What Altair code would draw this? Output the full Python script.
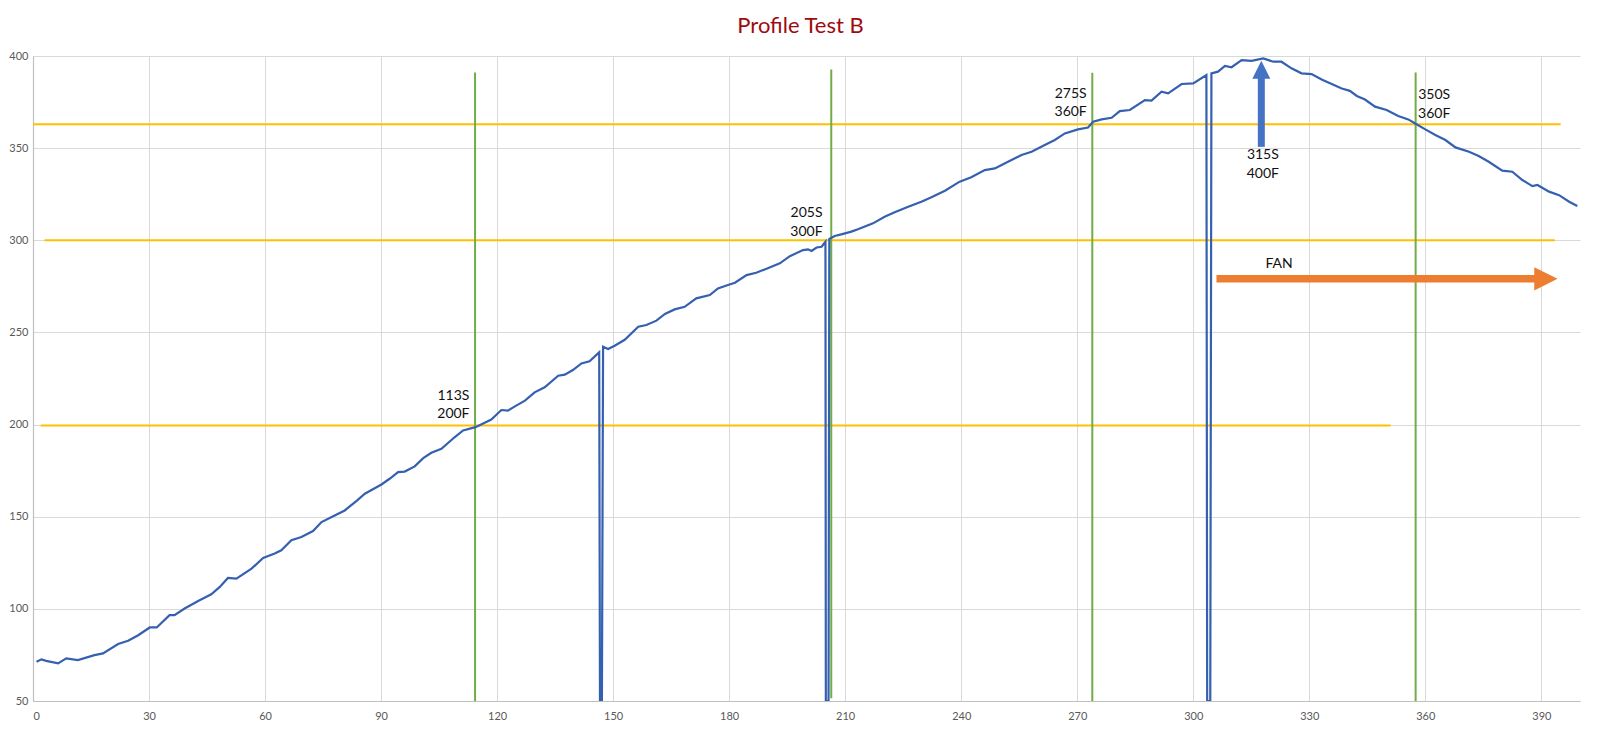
import altair as alt
import pandas as pd

# ---- main temperature trace (seconds, °F) ----
sec = [0.9, 2.2, 3.4, 6.5, 8.6, 11.6, 15.9, 18.1, 22.0, 24.6, 27.2, 30.2, 32.0, 35.3, 36.6,
       39.2, 42.7, 46.1, 48.3, 50.4, 52.6, 56.5, 59.5, 62.5, 64.2, 66.8, 69.4, 72.4, 74.6,
       78.0, 80.6, 83.6, 85.8, 90.1, 92.2, 94.4, 96.1, 98.7, 100.9, 103.0, 105.6, 109.0,
       111.2, 114.4, 118.5, 121.1, 122.8, 124.6, 127.2, 129.7, 132.3, 135.8, 137.5, 139.6,
       141.8, 143.9, 146.4, 146.6, 147.1, 147.4, 148.7, 150.4, 153.0, 156.5, 158.6, 161.2,
       163.4, 165.9, 168.5, 171.5, 175.0, 177.1, 179.7, 181.5, 184.5, 187.0, 189.2, 193.1,
       195.7, 199.1, 200.4, 201.3, 202.6, 203.9, 204.9, 205.0, 205.7, 205.9, 207.3, 209.0,
       211.6, 213.3, 217.2, 220.2, 222.8, 226.3, 229.7, 232.3, 235.8, 239.6, 242.6, 246.1,
       248.7, 252.1, 255.6, 258.2, 261.6, 264.2, 266.8, 270.2, 272.8, 274.1, 276.3, 278.9,
       281.0, 283.6, 287.5, 289.2, 291.8, 293.5, 297.0, 300.0, 303.4, 303.6, 304.4, 304.7,
       306.4, 308.2, 309.9, 312.5, 315.1, 318.1, 320.7, 322.8, 325.4, 328.0, 330.6, 333.2,
       335.8, 338.4, 340.5, 342.3, 344.4, 347.0, 350.0, 353.0, 355.6, 357.4, 360.0, 362.6,
       365.2, 367.8, 371.3, 373.8, 376.4, 379.9, 382.5, 385.1, 387.7, 389.0, 392.0, 394.6,
       397.2, 399.3]
temp = [71.3, 72.6, 71.8, 70.4, 73.1, 72.2, 74.9, 75.8, 80.9, 82.7, 85.7, 89.9, 89.9, 96.6, 96.6,
        100.2, 104.3, 107.9, 111.9, 116.8, 116.4, 121.8, 127.6, 130.0, 131.8, 137.2, 139.0, 142.2, 147.1,
        150.7, 153.4, 158.5, 162.5, 167.5, 170.6, 174.2, 174.5, 177.3, 181.8, 184.7, 186.8, 193.1,
        196.8, 198.6, 202.7, 207.9, 207.6, 209.9, 213.0, 217.5, 220.2, 226.5, 227.1, 229.6,
        233.2, 234.3, 239.2, 50.0, 50.0, 242.2, 241.0, 242.8, 246.0, 253.1, 254.0, 256.4,
        260.0, 262.5, 263.9, 268.5, 270.3, 273.9, 275.7, 277.0, 281.1, 282.4, 284.2, 287.5,
        291.4, 294.7, 295.1, 294.2, 296.1, 296.5, 299.2, 50.0, 50.0, 300.7, 302.3, 303.2,
        304.7, 306.0, 309.2, 312.8, 315.2, 318.2, 320.9, 323.3, 326.9, 331.8, 334.2, 338.1,
        339.0, 342.6, 346.3, 348.0, 351.7, 354.4, 358.0, 360.2, 361.2, 364.3, 365.6, 366.5,
        370.1, 370.7, 376.1, 375.8, 380.6, 379.7, 384.8, 385.1, 389.7, 50.0, 50.0, 390.6,
        391.5, 394.6, 393.9, 397.8, 397.4, 398.7, 396.9, 396.9, 393.3, 390.6, 390.2, 387.3,
        384.8, 382.4, 381.1, 378.3, 376.4, 372.5, 370.7, 367.4, 365.6, 363.4, 360.2, 357.1,
        354.4, 350.4, 348.0, 345.7, 342.6, 337.8, 337.2, 332.7, 329.4, 330.0, 326.4, 324.5,
        320.9, 318.6]

# ---- horizontal reference lines (orange) ----
h_y = [363, 300, 199.5]
h_x0 = [0, 3, 2]
h_x1 = [395, 393.5, 351]

# ---- vertical markers (green) ----
v_x = [114.3, 206.4, 273.9, 357.5]
v_y0 = [50, 51.5, 50, 50]
v_y1 = [391, 392.7, 390.9, 391.1]

# ---- annotation labels ----
lab_text = ["113S", "200F", "205S", "300F", "275S", "360F", "350S", "360F", "315S", "400F", "FAN"]
lab_x = [108.7, 108.7, 200.0, 200.0, 268.3, 268.3, 362.3, 362.3, 318.0, 318.0, 322.2]
lab_y = [215.7, 205.7, 314.6, 304.6, 379.5, 369.6, 378.6, 368.7, 346.1, 336.1, 287.3]

# ---- arrows ----
up_x = [317.6]
up_y0 = [350.7]
up_y1 = [388.5]
up_tip = [397.4]
fan_x0 = [306.0]
fan_x1 = [388.6]
fan_y = [279.1]
fan_tip = [394.2]

line_df = pd.DataFrame({"x": sec, "y": temp, "i": range(len(sec))})
h_df = pd.DataFrame({"x": h_x0, "x2": h_x1, "y": h_y})
v_df = pd.DataFrame({"x": v_x, "y": v_y0, "y2": v_y1})
lab_df = pd.DataFrame({"x": lab_x, "y": lab_y, "t": lab_text})
up_df = pd.DataFrame({"x": up_x, "y": up_y0, "y2": up_y1, "tip": up_tip})
fan_df = pd.DataFrame({"x": fan_x0, "x2": fan_x1, "y": fan_y, "tip": fan_tip})

xs = alt.Scale(domain=[0, 400], nice=False, zero=False)
ys = alt.Scale(domain=[50, 400], nice=False, zero=False)
xax = alt.Axis(values=list(range(0, 391, 30)), title=None)
yax = alt.Axis(values=list(range(50, 401, 50)), title=None)

def X(f="x"):
    return alt.X(f"{f}:Q", scale=xs, axis=xax)

def Y(f="y"):
    return alt.Y(f"{f}:Q", scale=ys, axis=yax)

hlines = alt.Chart(h_df).mark_rule(color="#ffc000", strokeWidth=2).encode(
    x=X(), x2="x2:Q", y=Y())
vlines = alt.Chart(v_df).mark_rule(color="#70ad47", strokeWidth=2).encode(
    x=X(), y=Y(), y2="y2:Q")
trace = alt.Chart(line_df).mark_line(color="#3560b0", strokeWidth=2.2, clip=True).encode(
    x=X(), y=Y(), order="i:Q")
up_shaft = alt.Chart(up_df).mark_rule(color="#4472c4", strokeWidth=7).encode(
    x=X(), y=Y(), y2="y2:Q")
up_head = alt.Chart(up_df).mark_point(
    shape="M0,0L-1,2L1,2Z", filled=True, opacity=1, color="#4472c4", size=324, strokeWidth=0
).encode(x=X(), y=Y("tip"))
fan_shaft = alt.Chart(fan_df).mark_rule(color="#ed7d31", strokeWidth=7.5).encode(
    x=X(), x2="x2:Q", y=Y())
fan_head = alt.Chart(fan_df).mark_point(
    shape="M0,0L-2,-1L-2,1Z", filled=True, opacity=1, color="#ed7d31", size=544, strokeWidth=0
).encode(x=X("tip"), y=Y())
labels = alt.Chart(lab_df).mark_text(
    font="Lato", fontSize=14, color="#111111", align="center", baseline="middle"
).encode(x=X(), y=Y(), text="t:N")

chart = alt.layer(
    hlines, vlines, trace, up_shaft, up_head, fan_shaft, fan_head, labels
).properties(
    width=1547,
    height=645,
    title=alt.TitleParams("Profile Test B", font="Lato", fontSize=22, fontWeight="normal",
                          color="#9e0b0f", anchor="middle", offset=12, dx=-6),
    padding={"left": 0, "top": 7, "right": 2, "bottom": 4},
).configure_view(stroke=None).configure_axis(
    grid=True, gridColor="#d9d9d9", gridWidth=1,
    domainColor="#bfbfbf", domainWidth=1.2,
    ticks=False, tickSize=0,
    labelFont="Lato", labelFontSize=11, labelColor="#595959",
).configure_axisX(labelPadding=9).configure_axisY(labelPadding=5)

chart.save("out.html", embed_options={"renderer": "svg", "actions": False})
